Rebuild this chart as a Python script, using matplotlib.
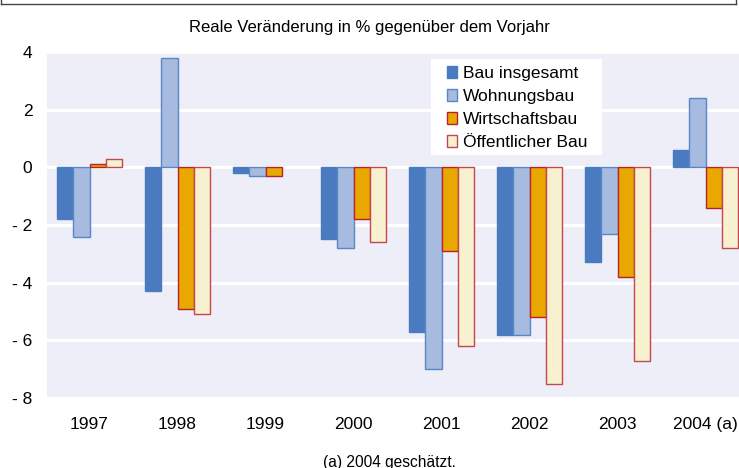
import numpy as np
import matplotlib
matplotlib.use("Agg")
import matplotlib.pyplot as plt
from matplotlib.lines import Line2D
from matplotlib.patches import Rectangle

plt.rcParams['font.family'] = ['Liberation Sans', 'DejaVu Sans']

jahre = ['1997', '1998', '1999', '2000', '2001', '2002', '2003', '2004 (a)']
bau_insgesamt = [-1.8, -4.3, -0.2, -2.5, -5.7, -5.8, -3.3, 0.6]
wohnungsbau = [-2.4, 3.8, -0.3, -2.8, -7.0, -5.8, -2.3, 2.4]
wirtschaftsbau = [0.1, -4.9, -0.3, -1.8, -2.9, -5.2, -3.8, -1.4]
oeffentlicher_bau = [0.3, -5.1, 0.0, -2.6, -6.2, -7.5, -6.7, -2.8]

namen = ['Bau insgesamt', 'Wohnungsbau', 'Wirtschaftsbau', 'Öffentlicher Bau']
fuellung = ['#4a7bc0', '#a6bbdf', '#e9a800', '#f8f1cf']
rand = ['#4a7bc0', '#5a86c6', '#b8202e', '#c4464e']

fig = plt.figure(figsize=(7.39, 4.68), dpi=100)
ax = fig.add_axes([47 / 739, 1 - 398 / 468, 1 - 47 / 739, 346 / 468])
ax.set_facecolor('#eeeef8')

x = np.arange(len(jahre))
b = 0.186
serien = [bau_insgesamt, wohnungsbau, wirtschaftsbau, oeffentlicher_bau]
for i, werte in enumerate(serien):
    balken = ax.bar(x + (i - 1.5) * b, werte, b, color=fuellung[i], edgecolor=rand[i],
                    linewidth=1.0, label=namen[i], zorder=3)
    for r in balken:
        if r.get_height() == 0:
            r.set_visible(False)

ax.set_xlim(-0.483, 7.38)
ax.set_ylim(-8, 4)
ax.set_yticks([-8, -6, -4, -2, 0, 2, 4])
ax.set_yticklabels(['- 8', '- 6', '- 4', '- 2', '0', '2', '4'])
ax.set_xticks(x)
ax.set_xticklabels(jahre)
ax.tick_params(length=0, labelsize=12.5)
ax.tick_params(axis='y', pad=10.5)
ax.tick_params(axis='x', pad=13.5)
ax.grid(axis='y', color='white', linewidth=2.2, zorder=1)
for s in ax.spines.values():
    s.set_visible(False)

# weisser Kasten hinter der Legende
ax.add_patch(Rectangle((0.555, 0.702), 0.247, 0.277, transform=ax.transAxes,
                       facecolor='white', edgecolor='none', zorder=2))
leg = ax.legend(loc='upper left', bbox_to_anchor=(0.5776, 0.959), fontsize=12.5,
                frameon=False, handlelength=0.62, handleheight=0.62,
                handletextpad=0.3, labelspacing=0.46, borderpad=0, borderaxespad=0)

fig.text(0.5, 1 - 32 / 468, 'Reale Veränderung in % gegenüber dem Vorjahr',
         ha='center', va='baseline', fontsize=12)
fig.text(389.5 / 739, 1 - 466.5 / 468, '(a) 2004 geschätzt.', ha='center', va='baseline',
         fontsize=11.2)

# Rahmenlinie oben
fig.add_artist(Line2D([0.001, 0.996], [1 - 4 / 468, 1 - 4 / 468],
                      transform=fig.transFigure, color='#444444', linewidth=1))
fig.add_artist(Line2D([0.001, 0.001], [1, 1 - 4 / 468],
                      transform=fig.transFigure, color='#444444', linewidth=1))
fig.add_artist(Line2D([0.996, 0.996], [1, 1 - 4 / 468],
                      transform=fig.transFigure, color='#444444', linewidth=1))

fig.savefig('out.png', dpi=100)
